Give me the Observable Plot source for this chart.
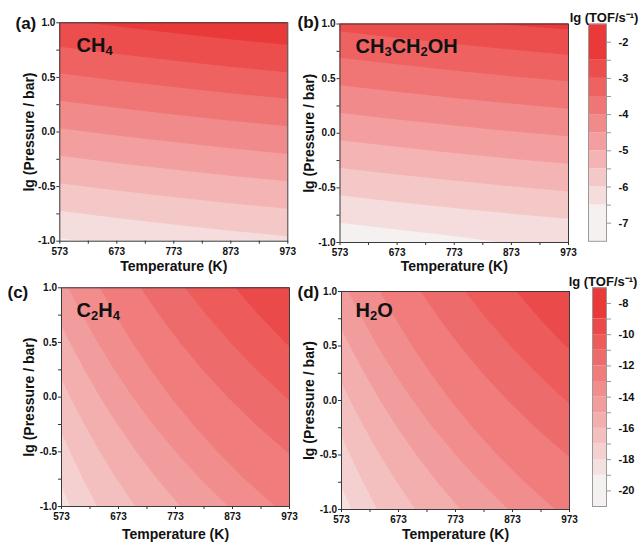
<!DOCTYPE html>
<html><head><meta charset="utf-8">
<script src="https://cdn.jsdelivr.net/npm/d3@7"></script>
<script src="https://cdn.jsdelivr.net/npm/@observablehq/plot@0.6"></script>
<style>
body{margin:0;background:#fff;}
#chart{position:relative;width:641px;height:546px;overflow:hidden;font-family:"Liberation Sans",Arial,sans-serif;background:#fff;}
#chart svg{position:absolute;overflow:visible;}
</style></head><body><div id="chart"></div>
<script>
// ---------- axes ----------
const temperatureDomain = [573, 973];
const pressureDomain = [-1, 1];
const temperatureTicks = [573, 673, 773, 873, 973];
const temperatureMinor = [623, 723, 823, 923];
const pressureTicks = [-1, -0.5, 0, 0.5, 1];
const pressureMinor = [-0.75, -0.25, 0.25, 0.75];

// ---------- colour levels (lg TOF) ----------
const topLevels = [-6.5, -6, -5.5, -5, -4.5, -4, -3.5, -3, -2.5];
const topExtent = [-7.5, -1.5];
const topBarTicks = [-7, -6.5, -6, -5.5, -5, -4.5, -4, -3.5, -3, -2.5, -2];
const topPalette = ["#f4f1f0","#f5dddd","#f5c8c8","#f4b4b4","#f39f9f","#f18b8b","#f07676","#ee6262","#ec4d4d","#e93939"];

const bottomLevels = [-19, -18, -17, -16, -15, -14, -13, -12, -11, -10, -9];
const bottomExtent = [-21, -7];
const bottomBarTicks = [-20, -19, -18, -17, -16, -15, -14, -13, -12, -11, -10, -9, -8];
const bottomPalette = ["#f4f1f0","#f5e0e0","#f5d0d0","#f4bfbf","#f3aeae","#f29d9d","#f18d8d","#f07c7c","#ee6b6b","#ed5b5b","#eb4a4a","#e93939"];

// ---------- contour boundaries: [T (K), lg P] ----------
const ch4BoundaryLevels = [-6.5, -6, -5.5, -5, -4.5, -4, -3.5, -3, -2.5];
const ch4Boundaries = [
  [[573,-0.978],[607,-1],[973,-1]],
  [[573,-0.725],[673,-0.791],[773,-0.851],[873,-0.908],[973,-0.959]],
  [[573,-0.474],[673,-0.540],[773,-0.600],[873,-0.657],[973,-0.708]],
  [[573,-0.222],[673,-0.288],[773,-0.348],[873,-0.405],[973,-0.456]],
  [[573,0.029],[673,-0.037],[773,-0.097],[873,-0.154],[973,-0.205]],
  [[573,0.282],[673,0.217],[773,0.156],[873,0.099],[973,0.048]],
  [[573,0.533],[673,0.468],[773,0.407],[873,0.350],[973,0.299]],
  [[573,0.777],[673,0.712],[773,0.651],[873,0.594],[973,0.543]],
  [[616,1],[673,0.963],[773,0.902],[873,0.845],[973,0.794]]
];

const ethanolBoundaryLevels = [-6.5, -6, -5.5, -5, -4.5, -4, -3.5, -3, -2.5];
const ethanolBoundaries = [
  [[573,-0.823],[673,-0.885],[773,-0.945],[850,-1],[973,-1]],
  [[573,-0.573],[673,-0.633],[773,-0.689],[873,-0.741],[973,-0.788]],
  [[573,-0.322],[673,-0.382],[773,-0.438],[873,-0.490],[973,-0.537]],
  [[573,-0.069],[673,-0.129],[773,-0.185],[873,-0.237],[973,-0.284]],
  [[573,0.182],[673,0.122],[773,0.066],[873,0.014],[973,-0.033]],
  [[573,0.435],[673,0.375],[773,0.319],[873,0.267],[973,0.220]],
  [[573,0.686],[673,0.626],[773,0.570],[873,0.518],[973,0.471]],
  [[573,0.930],[673,0.870],[773,0.814],[873,0.762],[973,0.715]],
  [[845,1],[900,0.975],[973,0.945]]
];

const ethyleneBoundaryLevels = [-18, -17, -16, -15, -14, -13, -12, -11, -10];
const ethyleneBoundaries = [
  [[573,-0.81],[589,-1],[973,-1]],
  [[573,-0.32],[588.4,-0.5],[611.3,-0.75],[636,-1],[973,-1]],
  [[573,0.17],[588.8,0],[613.7,-0.25],[640.9,-0.5],[670.5,-0.75],[703,-1],[973,-1]],
  [[573,0.66],[588.1,0.5],[613.5,0.25],[641.1,0],[671.4,-0.25],[704.6,-0.5],[741.3,-0.75],[782,-1],[973,-1]],
  [[585,1],[609.7,0.75],[636.6,0.5],[666,0.25],[698.3,0],[733.8,-0.25],[773.2,-0.5],[817,-0.75],[866,-1],[973,-1]],
  [[641,1],[668,0.75],[697.5,0.5],[729.6,0.25],[764.8,0],[803.7,-0.25],[846.6,-0.5],[894.5,-0.75],[948,-1],[973,-1]],
  [[712,1],[744.9,0.75],[780.9,0.5],[820.6,0.25],[864.6,0],[913.5,-0.25],[968.3,-0.5],[973,-0.52]],
  [[790,1],[827.8,0.75],[869.4,0.5],[915.4,0.25],[966.5,0],[973,-0.03]],
  [[878,1],[919.6,0.75],[965.3,0.5],[973,0.46]]
];

const waterBoundaryLevels = [-18, -17, -16, -15, -14, -13, -12, -11, -10];
const waterBoundaries = [
  [[573,-0.79],[591,-1],[973,-1]],
  [[573,-0.32],[588.4,-0.5],[611.3,-0.75],[636,-1],[973,-1]],
  [[573,0.17],[588.8,0],[613.7,-0.25],[640.9,-0.5],[670.5,-0.75],[703,-1],[973,-1]],
  [[573,0.66],[588.1,0.5],[613.5,0.25],[641.1,0],[671.4,-0.25],[704.6,-0.5],[741.3,-0.75],[782,-1],[973,-1]],
  [[585,1],[609.7,0.75],[636.6,0.5],[666,0.25],[698.3,0],[733.8,-0.25],[773.2,-0.5],[817,-0.75],[866,-1],[973,-1]],
  [[641,1],[668,0.75],[697.5,0.5],[729.6,0.25],[764.8,0],[803.7,-0.25],[846.6,-0.5],[894.5,-0.75],[948,-1],[973,-1]],
  [[712,1],[744.9,0.75],[780.9,0.5],[820.6,0.25],[864.6,0],[913.5,-0.25],[968.3,-0.5],[973,-0.52]],
  [[790,1],[827.8,0.75],[869.4,0.5],[915.4,0.25],[966.5,0],[973,-0.03]],
  [[880,1],[920.6,0.75],[965.8,0.5],[973,0.465]]
];

// ---------- text ----------
const panelLetters = ["(a)", "(b)", "(c)", "(d)"];
const panelNames = ["CH4", "CH3CH2OH", "C2H4", "H2O"];
const xTitle = "Temperature (K)";
const yTitle = "lg (Pressure / bar)";
const barTitle = "lg (TOF/s\u207B\u00B9)";

const FONT = "'Liberation Sans', Arial, Helvetica, sans-serif";
const SVGNS = "http://www.w3.org/2000/svg";
const root = document.getElementById("chart");

function place(svg, left, top) {
  svg.style.left = left + "px";
  svg.style.top = top + "px";
  root.appendChild(svg);
}

// chemical formula: digits become subscripts (tspans)
function subscriptFormula(svg, formula) {
  svg.querySelectorAll("text").forEach(t => {
    if (t.textContent !== formula) return;
    t.textContent = "";
    let lowered = false;
    for (const ch of formula) {
      const ts = document.createElementNS(SVGNS, "tspan");
      ts.textContent = ch;
      const isDigit = /[0-9]/.test(ch);
      if (isDigit) {
        ts.setAttribute("font-size", "13");
        if (!lowered) { ts.setAttribute("dy", "3"); lowered = true; }
      } else if (lowered) {
        ts.setAttribute("dy", "-3"); lowered = false;
      }
      t.appendChild(ts);
    }
  });
}

function drawPanel(cfg) {
  const colorOf = d3.scaleThreshold(cfg.levels, cfg.palette);
  const baseFill = colorOf(cfg.boundaryLevels[0] - 0.01);
  const marks = [
    Plot.frame({fill: baseFill, stroke: "none"}),
    ...cfg.boundaries.map((pts, i) => Plot.areaY(pts, {
      x: d => d[0], y1: d => d[1], y2: pressureDomain[1],
      fill: () => cfg.boundaryLevels[i], curve: "linear", clip: true
    })),
    Plot.frame({stroke: "#3a3a3a", strokeWidth: 1}),
    Plot.axisX(temperatureTicks, {tickSize: 3, tickPadding: 3.5, tickFormat: d => String(d), fontSize: 10, fontWeight: "bold", label: null, stroke: "#333", fill: "#111"}),
    Plot.axisX(temperatureMinor, {tickSize: 3, tickFormat: () => "", label: null, stroke: "#333"}),
    Plot.axisY(pressureTicks, {tickSize: 3, tickPadding: 1.5, tickFormat: d => d.toFixed(1), fontSize: 10, fontWeight: "bold", label: null, stroke: "#333", fill: "#111"}),
    Plot.axisY(pressureMinor, {tickSize: 3, tickFormat: () => "", label: null, stroke: "#333"}),
    Plot.text([cfg.letter], {text: d => d, frameAnchor: "top-left", textAnchor: "start", lineAnchor: "middle", dx: cfg.letterDx, dy: cfg.letterDy, fontSize: 17, fontWeight: "bold", fill: "#111"}),
    Plot.text([cfg.name], {text: d => d, frameAnchor: "top-left", textAnchor: "start", lineAnchor: "middle", dx: cfg.nameDx, dy: cfg.nameDy, fontSize: 20, fontWeight: "bold", fill: "#111"}),
    Plot.text([yTitle], {text: d => d, frameAnchor: "left", rotate: -90, textAnchor: "middle", lineAnchor: "middle", dx: cfg.yTitleDx, fontSize: 14, fontWeight: "bold", fill: "#111"}),
    Plot.text([xTitle], {text: d => d, frameAnchor: "bottom", textAnchor: "middle", lineAnchor: "middle", dy: cfg.xTitleDy, fontSize: 14, fontWeight: "bold", fill: "#111"})
  ];
  const svg = Plot.plot({
    width: cfg.w, height: cfg.h,
    marginLeft: cfg.ml, marginRight: cfg.mr, marginTop: cfg.mt, marginBottom: cfg.mb,
    x: {domain: temperatureDomain},
    y: {domain: pressureDomain},
    color: {type: "threshold", domain: cfg.levels, range: cfg.palette},
    style: {fontFamily: FONT, fontSize: "10px", fontWeight: "bold", background: "transparent", overflow: "visible", color: "#111"},
    marks
  });
  subscriptFormula(svg, cfg.name);
  place(svg, cfg.left, cfg.top);
}

function drawBar(cfg) {
  const edges = [cfg.extent[0], ...cfg.levels, cfg.extent[1]];
  const bands = d3.pairs(edges).map(([lo, hi]) => ({lo, hi, mid: (lo + hi) / 2}));
  const svg = Plot.plot({
    width: cfg.w, height: cfg.h,
    marginLeft: cfg.ml, marginRight: cfg.mr, marginTop: cfg.mt, marginBottom: cfg.mb,
    x: {domain: [0, 1], axis: null},
    y: {domain: cfg.extent},
    color: {type: "threshold", domain: cfg.levels, range: cfg.palette},
    style: {fontFamily: FONT, fontSize: "11px", fontWeight: "bold", background: "transparent", overflow: "visible", color: "#111"},
    marks: [
      Plot.rect(bands, {y1: "lo", y2: "hi", fill: "mid"}),
      Plot.frame({stroke: "#9a9a9a", strokeWidth: 1}),
      Plot.axisY(cfg.ticks, {anchor: "right", tickSize: 4, tickPadding: 8, tickFormat: cfg.format, fontSize: 11, fontWeight: "bold", label: null, stroke: "#999", fill: "#111"}),
      Plot.text([barTitle], {text: d => d, frameAnchor: "top", textAnchor: "middle", lineAnchor: "middle", dx: cfg.titleDx, dy: cfg.titleDy, fontSize: 13, fontWeight: "bold", fill: "#111"})
    ]
  });
  place(svg, cfg.left, cfg.top);
}

drawPanel({left: 0, top: 0, w: 292, h: 272, ml: 59.3, mr: 4.7, mt: 22.3, mb: 31.3,
  levels: topLevels, palette: topPalette, boundaryLevels: ch4BoundaryLevels, boundaries: ch4Boundaries,
  letter: panelLetters[0], name: panelNames[0], letterDx: -44.3, letterDy: 0.7, nameDx: 16.7, nameDy: 22.7, yTitleDx: -30.3, xTitleDy: 25.3});
drawPanel({left: 292, top: 0, w: 290, h: 272, ml: 47.5, mr: 14, mt: 23.5, mb: 30,
  levels: topLevels, palette: topPalette, boundaryLevels: ethanolBoundaryLevels, boundaries: ethanolBoundaries,
  letter: panelLetters[1], name: panelNames[1], letterDx: -42.5, letterDy: -1.5, nameDx: 15.5, nameDy: 23, yTitleDx: -30.5, xTitleDy: 24});
drawPanel({left: 0, top: 272, w: 292, h: 274, ml: 61, mr: 3, mt: 15.3, mb: 40,
  levels: bottomLevels, palette: bottomPalette, boundaryLevels: ethyleneBoundaryLevels, boundaries: ethyleneBoundaries,
  letter: panelLetters[2], name: panelNames[2], letterDx: -54, letterDy: 4.7, nameDx: 15, nameDy: 22.7, yTitleDx: -32, xTitleDy: 28});
drawPanel({left: 292, top: 272, w: 290, h: 274, ml: 49, mr: 13, mt: 19, mb: 37,
  levels: bottomLevels, palette: bottomPalette, boundaryLevels: waterBoundaryLevels, boundaries: waterBoundaries,
  letter: panelLetters[3], name: panelNames[3], letterDx: -44, letterDy: 1, nameDx: 14, nameDy: 19, yTitleDx: -32, xTitleDy: 25});

drawBar({left: 560, top: 0, w: 81, h: 262, ml: 28, mr: 35, mt: 23.6, mb: 21.2,
  levels: topLevels, palette: topPalette, extent: topExtent, ticks: topBarTicks,
  format: d => Number.isInteger(d) ? String(d) : "", titleDx: 6.5, titleDy: -6.6});
drawBar({left: 560, top: 268, w: 81, h: 250, ml: 32, mr: 35, mt: 19.3, mb: 12,
  levels: bottomLevels, palette: bottomPalette, extent: bottomExtent, ticks: bottomBarTicks,
  format: d => (d % 2 === 0) ? String(d) : "", titleDx: 3.5, titleDy: -6.3});
</script></body></html>
